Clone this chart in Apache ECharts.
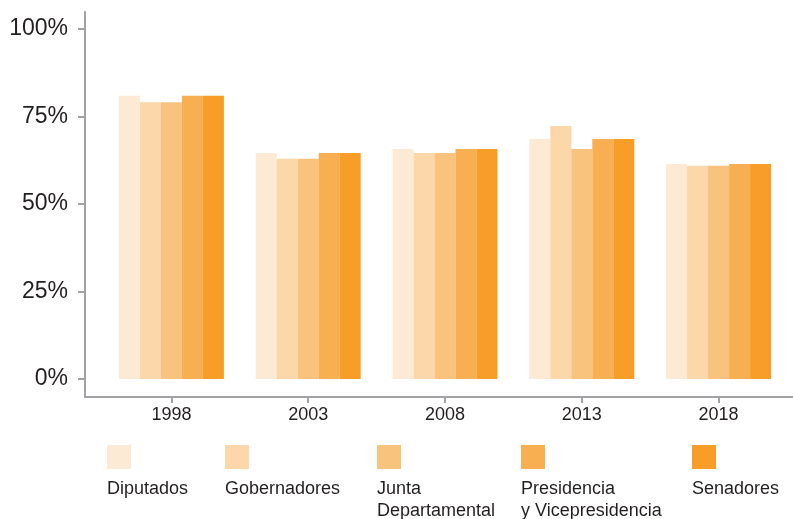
<!DOCTYPE html>
<html>
<head>
<meta charset="utf-8">
<script src="https://cdn.jsdelivr.net/npm/echarts@6/dist/echarts.min.js"></script>
<style>
  html, body { margin: 0; padding: 0; background: #fff; }
  #chart { width: 793px; height: 519px; }
</style>
</head>
<body>
<div id="chart"></div>
<script>
// Election years
const years = ['1998', '2003', '2008', '2013', '2018'];

// Turnout (%) per office
const diputados     = [80.9, 64.6, 65.7, 68.6, 61.4];
const gobernadores  = [79.1, 62.9, 64.6, 72.3, 60.9];
const junta         = [79.1, 62.9, 64.6, 65.7, 60.9];
const presidencia   = [80.9, 64.6, 65.7, 68.6, 61.4];
const senadores     = [80.9, 64.6, 65.7, 68.6, 61.4];

const seriesNames = ['Diputados', 'Gobernadores', 'Junta Departamental', 'Presidencia y Vicepresidencia', 'Senadores'];
const legendLabels = ['Diputados', 'Gobernadores', 'Junta\nDepartamental', 'Presidencia\ny Vicepresidencia', 'Senadores'];
const seriesData = [diputados, gobernadores, junta, presidencia, senadores];
const seriesColors = ['#fdead4', '#fcd7a9', '#f9c37d', '#f8af51', '#f89d27'];

// Y tick labels
const yTicks = [0, 25, 50, 75, 100];

const Y_MIN = -5.14, Y_MAX = 104.86;
const AXIS_COLOR = '#a2a2a6';
const TEXT_COLOR = '#231f20';
const FONT = 'Liberation Sans, Arial, sans-serif';

const legendLeft = [107, 225, 377, 521, 692];

const chart = echarts.init(document.getElementById('chart'), null, { renderer: 'canvas' });

const option = {
  animation: false,
  backgroundColor: '#fff',
  grid: [
    { left: 85, right: 0, top: 12, bottom: 122, containLabel: false },
    { left: 103, right: 6, top: 12, bottom: 122, containLabel: false }
  ],
  xAxis: [
    {
      gridIndex: 0, type: 'value', min: 0, max: 1,
      axisLine: { show: true, onZero: false, lineStyle: { color: AXIS_COLOR, width: 2 } },
      axisTick: { show: false }, axisLabel: { show: false }, splitLine: { show: false }
    },
    {
      gridIndex: 1, type: 'category', data: years,
      axisLine: { show: false, onZero: false },
      axisTick: { show: true, alignWithLabel: true, length: 6, lineStyle: { color: AXIS_COLOR, width: 2 } },
      axisLabel: { color: TEXT_COLOR, fontSize: 18, fontFamily: FONT, margin: 9 },
      splitLine: { show: false }
    }
  ],
  yAxis: [
    {
      gridIndex: 0, type: 'value', min: Y_MIN, max: Y_MAX,
      axisLine: { show: true, onZero: false, lineStyle: { color: AXIS_COLOR, width: 2 } },
      axisTick: { show: true, length: 7, customValues: yTicks, lineStyle: { color: AXIS_COLOR, width: 2 } },
      axisLabel: {
        customValues: yTicks, color: TEXT_COLOR, fontSize: 23, fontFamily: FONT, margin: 17,
        formatter: v => v + '%'
      },
      splitLine: { show: false }
    },
    {
      gridIndex: 1, type: 'value', min: Y_MIN, max: Y_MAX, show: false,
      splitLine: { show: false }
    }
  ],
  legend: seriesNames.map((name, i) => ({
    data: [name],
    left: legendLeft[i], top: 445,
    icon: 'rect', itemWidth: 24, itemHeight: 24,
    padding: 0, selectedMode: false,
    formatter: () => '',
    textStyle: { padding: 0 }
  })),
  series: seriesNames.map((name, i) => ({
    name,
    type: 'bar',
    xAxisIndex: 1, yAxisIndex: 1,
    data: seriesData[i],
    barWidth: 21,
    barGap: '0%',
    itemStyle: { color: seriesColors[i] },
    emphasis: { disabled: true }
  })),
  graphic: legendLabels.map((txt, i) => ({
    type: 'text',
    left: legendLeft[i], top: 478,
    style: {
      text: txt, fill: TEXT_COLOR, font: '18px ' + FONT,
      lineHeight: 22, verticalAlign: 'top'
    }
  }))
};

chart.setOption(option);
</script>
</body>
</html>
